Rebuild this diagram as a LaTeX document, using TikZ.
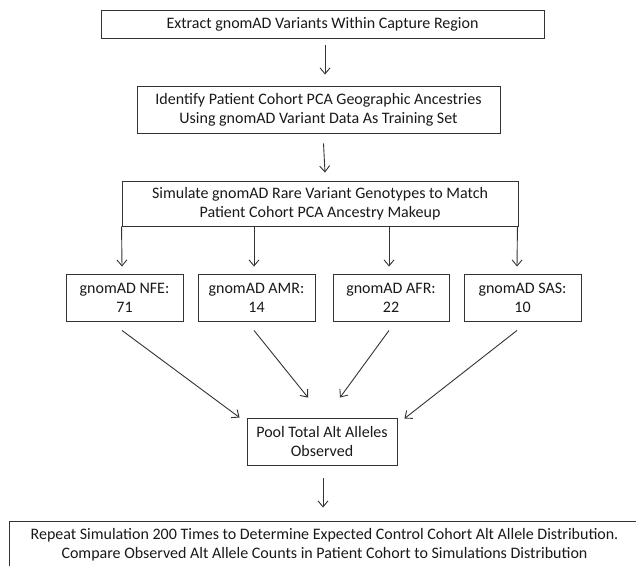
\documentclass[tikz,border=0pt]{standalone}
\usepackage{fontspec}
\setmainfont{Carlito}
\usetikzlibrary{arrows.meta}
\tikzset{
  boxnode/.style={draw=black!80, line width=0.9pt, inner sep=0pt, align=center,
    font=\fontsize{16pt}{19pt}\selectfont, text=black!90},
  arr/.style={draw=black!80, line width=0.9pt, -{Straight Barb[length=6pt,width=10pt,line width=0.9pt]}}
}
\begin{document}
\begin{tikzpicture}[x=1pt,y=-1pt]
\useasboundingbox (0,0) rectangle (636,565);
\node[boxnode, minimum width=443pt, minimum height=28pt] (box1) at (322.5,24) {Extract gnomAD Variants Within Capture Region};
\node[boxnode, minimum width=363pt, minimum height=47pt] (box2) at (318.5,109.5) {Identify Patient Cohort PCA Geographic Ancestries\\Using gnomAD Variant Data As Training Set};
\node[boxnode, minimum width=396pt, minimum height=45pt] (box3) at (320,203.5) {Simulate gnomAD Rare Variant Genotypes to Match\\Patient Cohort PCA Ancestry Makeup};
\node[boxnode, minimum width=117pt, minimum height=47pt] (nfe) at (124.5,297.5) {gnomAD NFE:\\71};
\node[boxnode, minimum width=117pt, minimum height=47pt] (amr) at (256.5,297.5) {gnomAD AMR:\\14};
\node[boxnode, minimum width=116pt, minimum height=47pt] (afr) at (391,297.5) {gnomAD AFR:\\22};
\node[boxnode, minimum width=117pt, minimum height=47pt] (sas) at (522.5,297.5) {gnomAD SAS:\\10};
\node[boxnode, minimum width=150pt, minimum height=47pt] (pool) at (322,441.5) {Pool Total Alt Alleles\\Observed};
\node[boxnode, minimum width=631pt, minimum height=47pt] (final) at (324.5,544.5) {Repeat Simulation 200 Times to Determine Expected Control Cohort Alt Allele Distribution.\\Compare Observed Alt Allele Counts in Patient Cohort to Simulations Distribution};

\draw[arr] ([xshift=2.5pt,yshift=-7pt]box1.south) -- ([xshift=6.5pt,yshift=11pt]box2.north);
\draw[arr] ([xshift=5pt,yshift=-10pt]box2.south) -- ([xshift=5pt,yshift=8pt]box3.north);

\draw[arr] (box3.south west) -- ([xshift=-2.5pt,yshift=7pt]nfe.north);
\draw[arr] ([xshift=-66pt]box3.south) -- ([xshift=-2.5pt,yshift=7pt]amr.north);
\draw[arr] ([xshift=69pt]box3.south) -- ([xshift=-2pt,yshift=7pt]afr.north);
\draw[arr] ([xshift=-1pt]box3.south east) -- ([xshift=-5.5pt,yshift=7pt]sas.north);

\draw[arr] ([xshift=-2.5pt,yshift=-9pt]nfe.south) -- ([xshift=-7pt]pool.north west);
\draw[arr] ([xshift=-2.5pt,yshift=-9pt]amr.south) -- ([xshift=-14pt,yshift=20pt]pool.north);
\draw[arr] ([xshift=-2pt,yshift=-9pt]afr.south) -- ([xshift=18pt,yshift=20pt]pool.north);
\draw[arr] ([xshift=-5.5pt,yshift=-9pt]sas.south) -- ([xshift=7pt,yshift=-1pt]pool.north east);

\draw[arr] ([xshift=1pt,yshift=-13pt]pool.south) -- ([xshift=-1.5pt,yshift=13pt]final.north);
\end{tikzpicture}
\end{document}
